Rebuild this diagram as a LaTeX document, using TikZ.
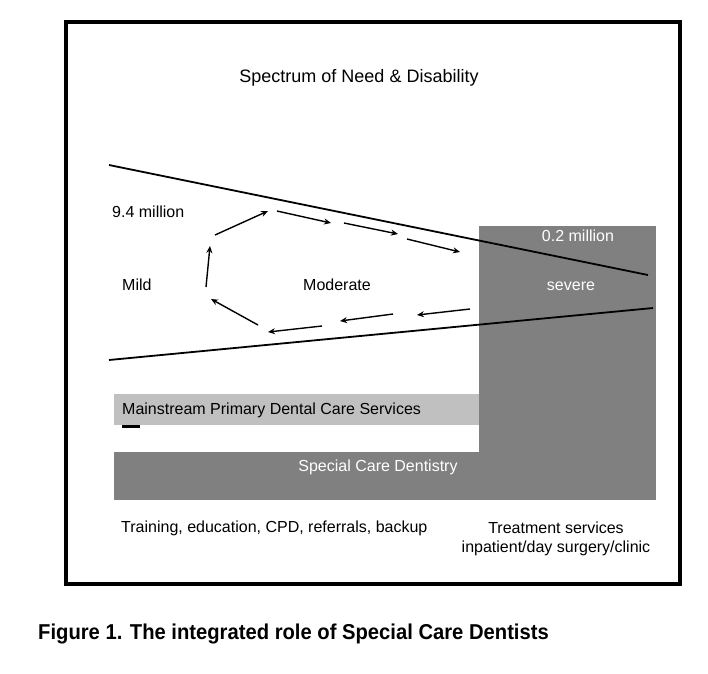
\documentclass[tikz,border=0pt]{standalone}
\usepackage{fontspec}
\setmainfont{Liberation Sans}
\newfontfamily\capfont[FakeStretch=0.94]{Liberation Sans}
\usetikzlibrary{arrows.meta}
\definecolor{darkgr}{HTML}{808080}
\definecolor{lightgr}{HTML}{C0C0C0}
\tikzset{
  lbl/.style={inner sep=0pt, font=\fontsize{16}{19}\selectfont},
  wlbl/.style={lbl, text=white},
  wedge/.style={line width=1.8pt},
  flow/.style={line width=1.4pt, -{Stealth[length=7pt,width=6pt]}},
}
\begin{document}
\begin{tikzpicture}[x=1pt,y=-1pt]
\useasboundingbox (0,0) rectangle (708,673);
\fill[white] (0,0) rectangle (708,673);
% frame
\draw[line width=4.5pt] (66,22) rectangle (680,584);
% gray areas
\fill[darkgr] (479,226) rectangle (656,500);
\fill[darkgr] (114,452) rectangle (656,500);
\fill[lightgr] (114,394) rectangle (479,425);
\fill[black] (122,425) rectangle (140,428);
% wedge
\coordinate (u1) at (109,165); \coordinate (u2) at (648,275);
\coordinate (l1) at (109,360); \coordinate (l2) at (653,308);
\draw[wedge] (u1) -- (u2);
\draw[wedge] (l1) -- (l2);
% cycle arrows
\coordinate (a1s) at (258,325); \coordinate (a1e) at (211,299);
\coordinate (a2s) at (206,287); \coordinate (a2e) at (210,246);
\coordinate (a3s) at (215,235); \coordinate (a3e) at (268,211);
\coordinate (a4s) at (277,211); \coordinate (a4e) at (331,223);
\coordinate (a5s) at (344,223); \coordinate (a5e) at (398,234);
\coordinate (a6s) at (407,239); \coordinate (a6e) at (460,252);
\coordinate (a7s) at (470,309); \coordinate (a7e) at (417,315);
\coordinate (a8s) at (393,314); \coordinate (a8e) at (340,321);
\coordinate (a9s) at (322,326); \coordinate (a9e) at (268,332);
\foreach \i in {1,...,9} {\draw[flow] (a\i s) -- (a\i e);}
% texts
\node[lbl, font=\fontsize{18}{21}\selectfont] (title) at (359,78) {Spectrum of Need \& Disability};
\node[lbl, anchor=west] (nine) at (112,212) {9.4 million};
\node[lbl, anchor=west] (mild) at (122,285) {Mild};
\node[lbl] (mod) at (337,285) {Moderate};
\node[wlbl] (zero) at (578,236) {0.2 million};
\node[wlbl] (sev) at (571,286) {severe};
\node[lbl, anchor=west] (main) at (122,410) {Mainstream Primary Dental Care Services};
\node[wlbl] (scd) at (378,467) {Special Care Dentistry};
\node[lbl, anchor=west] (train) at (121,528) {Training, education, CPD, referrals, backup};
\node[lbl, align=center] (treat) at (556,539) {Treatment services\\inpatient/day surgery/clinic};
\node[inner sep=0pt, anchor=west, font=\capfont\bfseries\fontsize{21.5}{24}\selectfont] (cap) at (38,634) {Figure 1. The integrated role of Special Care Dentists};
\end{tikzpicture}
\end{document}
